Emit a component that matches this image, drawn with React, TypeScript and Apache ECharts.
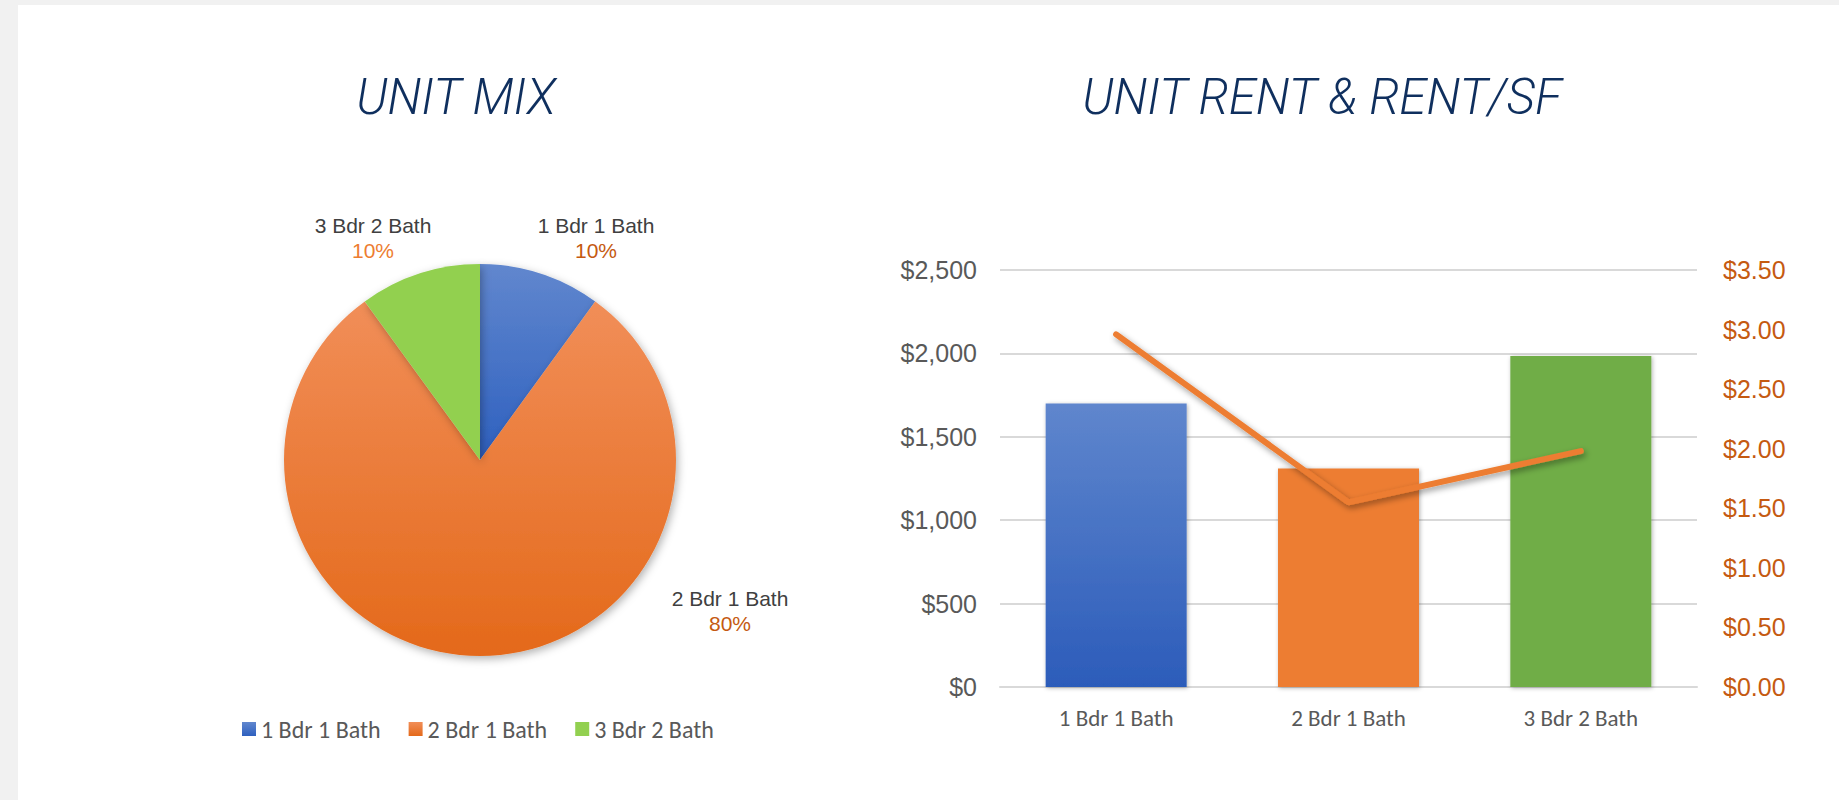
import React, { useEffect, useRef } from "react";
import * as echarts from "echarts";

// ---- data ----
const unitTypes = ["1 Bdr 1 Bath", "2 Bdr 1 Bath", "3 Bdr 2 Bath"];
const unitMixShare = [10, 80, 10];
const unitRent = [1700, 1310, 1985];
const rentPerSf = [2.96, 1.55, 1.98];
const rentTicks = { min: 0, max: 2500, interval: 500 };
const rentSfTicks = { min: 0, max: 3.5, interval: 0.5 };

const titles = ["UNIT MIX", "UNIT RENT & RENT/SF"];

const lg = (top: string, bottom: string) =>
  new echarts.graphic.LinearGradient(0, 0, 0, 1, [
    { offset: 0, color: top },
    { offset: 1, color: bottom },
  ]);

export default function App() {
  const ref = useRef<HTMLDivElement>(null);

  useEffect(() => {
    if (!ref.current) return;
    const chart = echarts.init(ref.current, undefined, { renderer: "svg" });

    const pieColors = [
      lg("#6187ce", "#2e60bf"),
      lg("#f18e58", "#e4691a"),
      "#92d050",
    ];
    const barColors = [lg("#5f86cd", "#2c5cba"), "#ed7d31", "#70ad47"];
    const pieLabelPos = [
      [596, 238],
      [730, 611],
      [373, 238],
    ];
    const titleFont = "italic 300 49px Roboto, 'Liberation Sans', sans-serif";
    const calibriLike = "Carlito, Lato, sans-serif";

    const option: any = {
      animation: false,
      backgroundColor: "#f1f1f1",
      graphic: [
        {
          type: "rect",
          z: -10,
          shape: { x: 18, y: 5, width: 1821, height: 795 },
          style: { fill: "#ffffff" },
          silent: true,
        },
        {
          type: "text",
          x: 456,
          y: 97,
          style: {
            text: titles[0],
            fill: "#0f2f5e",
            font: titleFont,
            align: "center",
            verticalAlign: "middle",
          },
        },
        {
          type: "text",
          x: 1322,
          y: 97,
          style: {
            text: titles[1],
            fill: "#0f2f5e",
            font: titleFont,
            align: "center",
            verticalAlign: "middle",
          },
        },
      ],
      legend: {
        data: unitTypes,
        left: 237,
        top: 712,
        itemWidth: 14,
        itemHeight: 14,
        itemGap: 28,
        icon: "rect",
        textStyle: {
          fontFamily: calibriLike,
          fontSize: 24,
          color: "#595959",
        },
      },
      grid: { left: 1000, right: 142, top: 270, bottom: 113 },
      xAxis: {
        type: "category",
        data: unitTypes,
        axisLine: { lineStyle: { color: "#d9d9d9", width: 2 } },
        axisTick: { show: false },
        axisLabel: {
          fontFamily: calibriLike,
          fontSize: 23,
          color: "#595959",
          margin: 19,
        },
      },
      yAxis: [
        {
          type: "value",
          min: rentTicks.min,
          max: rentTicks.max,
          interval: rentTicks.interval,
          axisLine: { show: false },
          axisTick: { show: false },
          splitLine: { lineStyle: { color: "#d9d9d9", width: 2 } },
          axisLabel: {
            formatter: (v: number) => "$" + v.toLocaleString("en-US"),
            fontFamily: "'Liberation Sans', Arial, sans-serif",
            fontSize: 25,
            color: "#595959",
            margin: 23,
          },
        },
        {
          type: "value",
          min: rentSfTicks.min,
          max: rentSfTicks.max,
          interval: rentSfTicks.interval,
          axisLine: { show: false },
          axisTick: { show: false },
          splitLine: { show: false },
          axisLabel: {
            formatter: (v: number) => "$" + v.toFixed(2),
            fontFamily: "'Liberation Sans', Arial, sans-serif",
            fontSize: 25,
            color: "#c55a11",
            margin: 26,
          },
        },
      ],
      series: [
        {
          type: "pie",
          center: [480, 460],
          radius: 196,
          startAngle: 90,
          clockwise: true,
          avoidLabelOverlap: false,
          data: unitTypes.map((n, i) => ({
            name: n,
            value: unitMixShare[i],
            itemStyle: { color: pieColors[i] },
          })),
          itemStyle: {
            shadowBlur: 8,
            shadowColor: "rgba(0,0,0,0.3)",
            shadowOffsetX: 2,
            shadowOffsetY: 3,
          },
          labelLine: { show: false },
          label: {
            show: true,
            position: "outside",
            formatter: (p: any) =>
              `{n|${p.name}}\n{${p.dataIndex === 2 ? "q" : "p"}|${Math.round(
                p.percent
              )}%}`,
            rich: {
              n: {
                fontFamily: "'Liberation Sans', Arial, sans-serif",
                fontSize: 21,
                color: "#404040",
                lineHeight: 25,
                align: "center",
              },
              p: {
                fontFamily: "'Liberation Sans', Arial, sans-serif",
                fontSize: 21,
                color: "#c55a11",
                lineHeight: 25,
                align: "center",
              },
              q: {
                fontFamily: "'Liberation Sans', Arial, sans-serif",
                fontSize: 21,
                color: "#ed7d31",
                lineHeight: 25,
                align: "center",
              },
            },
          },
          labelLayout: (params: any) => {
            const pos = pieLabelPos[params.dataIndex];
            return {
              x: pos[0],
              y: pos[1],
              align: "center",
              verticalAlign: "middle",
            };
          },
          emphasis: { disabled: true },
        },
        {
          type: "bar",
          barWidth: 141,
          data: unitRent.map((v, i) => ({
            value: v,
            itemStyle: { color: barColors[i] },
          })),
          itemStyle: {
            shadowBlur: 4,
            shadowColor: "rgba(0,0,0,0.3)",
            shadowOffsetX: 1,
            shadowOffsetY: 1,
          },
          emphasis: { disabled: true },
        },
        {
          type: "line",
          yAxisIndex: 1,
          data: rentPerSf,
          symbol: "none",
          lineStyle: {
            color: "#ed7d31",
            width: 6,
            cap: "round",
            shadowBlur: 6,
            shadowColor: "rgba(0,0,0,0.4)",
            shadowOffsetX: 2,
            shadowOffsetY: 3,
          },
          emphasis: { disabled: true },
          z: 5,
        },
      ],
    };

    chart.setOption(option);
    return () => chart.dispose();
  }, []);

  return (
    <div
      ref={ref}
      style={{ position: "fixed", left: 0, top: 0, width: 1839, height: 800 }}
    />
  );
}
